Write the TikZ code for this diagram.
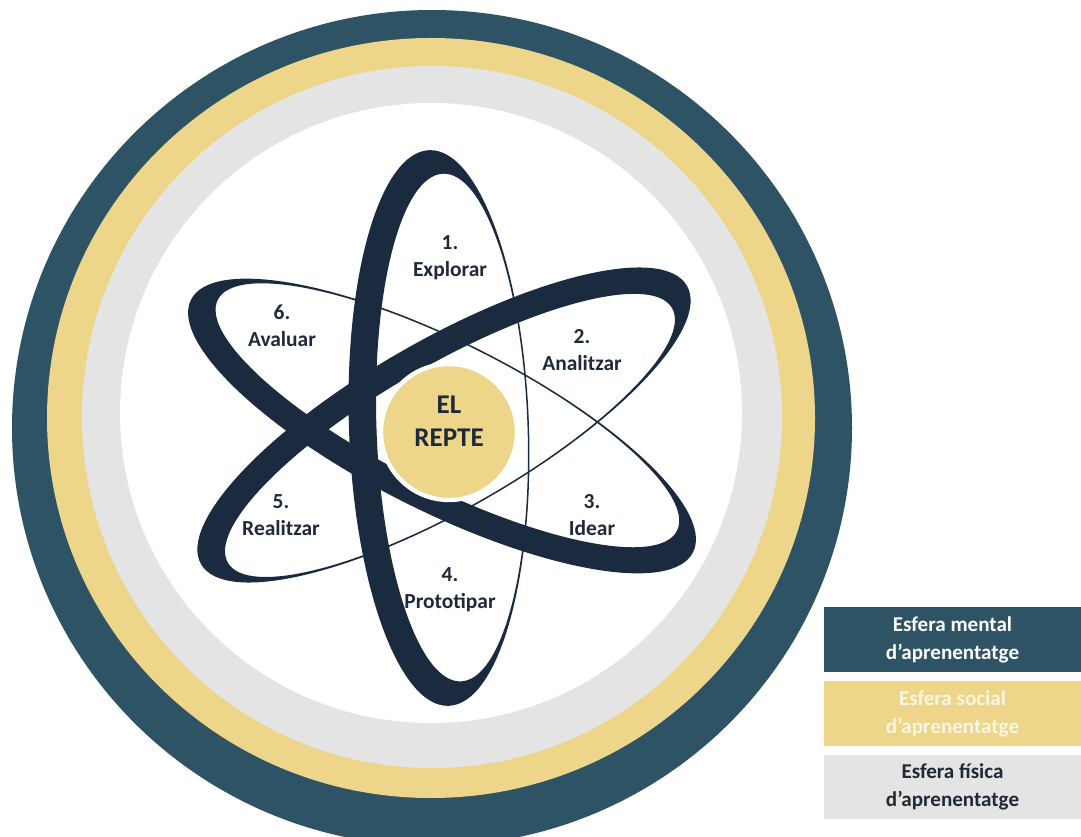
\documentclass[tikz,border=0pt]{standalone}
\usepackage{fontspec}
\setmainfont{Carlito}
\usepackage{tikz}

\definecolor{ringdark}{HTML}{2E5365}
\definecolor{ringyellow}{HTML}{EDD58A}
\definecolor{ringgrey}{HTML}{E4E4E4}
\definecolor{atomnavy}{HTML}{1A2B40}
\definecolor{textnavy}{HTML}{1F2A38}
\definecolor{socialtext}{HTML}{FBF5E3}

\begin{document}
\begin{tikzpicture}[x=0.02cm, y=0.02cm,
        orbit_style/.style={fill=atomnavy, even odd rule},
        step_label_style/.style={align=center, text=textnavy, inner sep=0pt, font=\fontsize{12.2}{15.3}\selectfont\bfseries},
        repte_style/.style={circle, fill=ringyellow, draw=white, line width=2.5pt, minimum size=2.72cm},
        repte_text_style/.style={align=center, text=textnavy, inner sep=0pt, font=\fontsize{15.4}{18.7}\selectfont\bfseries},
        legend_style/.style={minimum width=5.14cm, minimum height=1.3cm, inner sep=0pt, align=center, font=\fontsize{12}{15.9}\selectfont\bfseries}]

        \useasboundingbox (0,0) rectangle (1081,-837);
        \clip (0,0) rectangle (1081,-837);

        \fill [ringdark] (432,-428) ellipse (420 and 418);
        \fill [ringyellow] (431,-418) ellipse (384 and 380);
        \fill [ringgrey] (432,-417) ellipse (350 and 351);
        \fill [white] (431,-413) ellipse (311 and 310);

        \fill [orbit_style, rotate around={2:(439,-428)}] (439,-428) ellipse (90 and 278) (452,-428) ellipse (75.5 and 254);

        \fill [orbit_style, rotate around={63.3:(442,-426)}] (442,-426) ellipse (85 and 281) (454,-426) ellipse (71.5 and 257);

        \fill [orbit_style, rotate around={-60.2:(444,-425)}] (444,-425) ellipse (85 and 280) (456,-425) ellipse (71.5 and 256);

        \node [repte_style] (repte) at (449,-432) {};

        \node [repte_text_style] (repte_text) at (449,-421) {EL\\REPTE};

        \node [step_label_style] (explorar) at (450,-258) {1.\\Explorar};

        \node [step_label_style] (analitzar) at (582,-350) {2.\\Analitzar};

        \node [step_label_style] (idear) at (592,-515) {3.\\Idear};

        \node [step_label_style] (prototipar) at (450,-590) {4.\\Prototipar};

        \node [step_label_style] (realitzar) at (281,-515) {5.\\Realitzar};

        \node [step_label_style] (avaluar) at (282,-326) {6.\\Avaluar};

        \node [legend_style, fill=ringdark, text=white] (mental) at (952.5,-639.5) {Esfera mental\\d’aprenentatge};

        \node [legend_style, fill=ringyellow, text=socialtext] (social) at (952.5,-713.5) {Esfera social\\d’aprenentatge};

        \node [legend_style, fill=ringgrey, text=textnavy] (fisica) at (952.5,-787) {Esfera física\\d’aprenentatge};

\end{tikzpicture}
\end{document}
